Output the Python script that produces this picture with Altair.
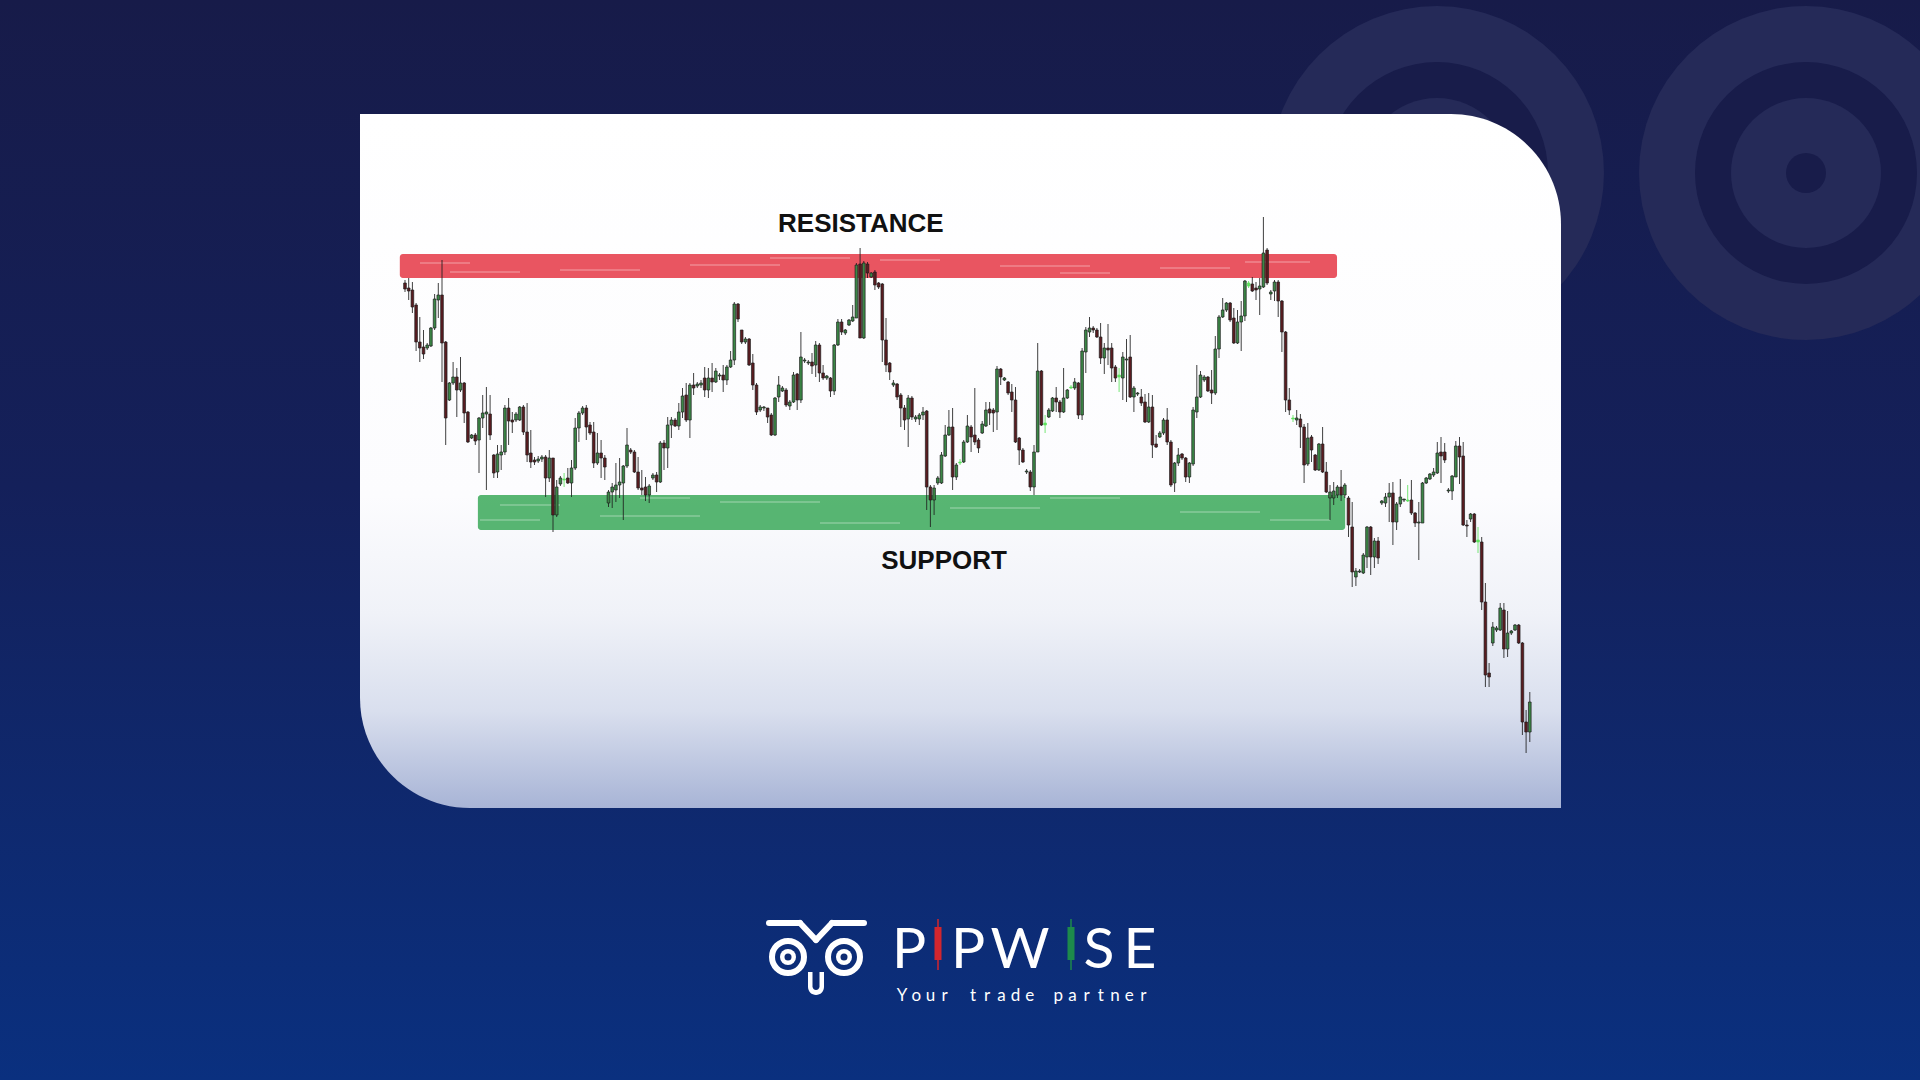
import altair as alt
import pandas as pd

# ---------------- candle data (price units) ----------------
opens = [717,712,710,695,658,653,652,654,672,700,
         705,658,600,617,623,610,617,588,562,565,
         560,582,586,586,545,528,545,548,592,580,
         580,580,593,568,547,540,539,541,543,522,
         542,485,516,520,522,517,532,572,587,592,
         575,568,537,547,542,497,508,510,515,517,
         534,550,548,528,512,513,505,522,525,518,
         557,552,575,580,574,588,605,580,615,614,
         615,622,610,622,618,624,625,620,633,640,
         696,670,658,661,637,615,590,592,592,585,
         565,603,609,610,594,598,626,600,639,637,
         638,635,655,627,622,622,609,655,678,667,
         675,679,682,736,662,736,723,728,717,716,
         660,637,615,616,605,592,581,602,581,581,
         585,589,513,500,517,517,544,565,573,523,
         537,538,558,573,565,560,567,574,591,590,
         588,631,620,618,608,600,562,550,528,528,
         513,548,629,575,583,589,602,598,588,602,
         612,612,617,585,648,668,672,670,663,642,
         652,652,633,623,622,640,643,603,606,603,
         598,578,593,556,563,567,580,558,517,537,
         546,542,523,536,588,603,620,623,610,607,
         651,683,690,697,682,657,678,684,714,716,
         712,711,713,750,706,709,718,699,668,600,
         581,580,581,573,536,563,545,530,556,528,
         502,502,505,513,505,502,473,423,428,427,
         443,473,443,459,497,497,503,507,478,496,
         500,499,500,487,477,477,517,521,525,527,
         548,548,509,509,523,554,544,475,481,486,
         458,458,398,327,357,370,370,390,351,367,
         370,375,357,278,268]
closes = [711,709,693,658,652,646,655,672,701,705,
          657,582,617,623,610,617,587,558,565,559,
          582,587,588,565,527,546,548,592,579,578,
          586,593,568,545,538,538,541,543,522,542,
          485,513,522,521,517,532,572,587,592,573,
          567,537,547,542,533,508,513,515,518,534,
          555,548,528,512,510,505,514,525,518,557,
          552,575,580,574,588,604,580,615,612,616,
          617,610,622,618,629,625,620,633,640,696,
          681,658,661,635,615,588,593,593,583,565,
          602,615,612,595,598,625,600,643,640,638,
          634,655,627,622,624,609,655,678,668,670,
          680,683,735,662,737,727,727,715,713,660,
          635,628,617,603,592,580,602,583,583,585,
          588,513,500,512,522,545,565,573,523,535,
          538,558,574,563,558,552,576,590,587,587,
          631,623,622,607,600,558,550,538,529,513,
          548,629,575,577,590,602,598,588,602,610,
          613,618,585,649,670,672,670,663,642,652,
          650,632,622,625,643,641,603,612,607,597,
          578,593,555,553,567,580,558,515,537,545,
          542,523,537,590,603,625,623,609,607,651,
          683,690,697,680,657,678,684,719,717,709,
          710,714,747,717,708,718,699,668,600,590,
          582,582,573,535,562,550,530,556,528,508,
          508,509,513,505,515,475,428,429,429,445,
          473,443,459,442,499,503,507,478,496,503,
          501,500,487,477,478,517,522,526,528,547,
          544,540,510,524,554,543,475,474,486,458,
          460,398,325,323,373,372,392,351,367,369,
          375,357,278,268,298]
highs = [720,722,718,697,683,670,657,673,706,717,
         740,659,618,638,632,643,618,589,566,567,
         583,605,613,605,546,555,555,595,602,588,
         588,594,595,597,570,543,544,545,545,550,
         542,520,524,527,532,540,582,589,594,595,
         578,578,567,560,545,510,517,537,542,535,
         572,552,550,543,530,523,516,527,528,559,
         560,583,583,582,597,612,617,617,627,618,
         620,633,632,637,632,627,635,635,649,698,
         697,670,663,662,646,617,595,594,592,587,
         603,624,614,612,600,628,627,668,642,640,
         647,659,657,635,625,623,656,681,681,671,
         681,695,737,752,739,738,728,730,718,717,
         682,638,620,617,607,595,605,604,585,587,
         593,590,515,515,524,548,575,590,592,537,
         541,560,585,575,612,562,579,598,598,592,
         634,632,623,619,616,613,563,552,531,530,
         555,657,630,585,592,603,613,600,632,611,
         615,622,618,652,673,683,674,672,677,657,
         676,657,635,632,648,661,665,614,608,611,
         606,607,605,565,569,582,592,560,538,552,
         547,543,538,593,635,629,625,624,630,664,
         685,702,698,698,692,690,699,720,719,723,
         718,722,783,752,710,720,720,700,669,612,
         585,590,586,576,577,565,546,557,573,538,
         515,518,515,530,517,504,498,432,431,447,
         474,474,462,463,500,507,517,518,498,521,
         501,515,520,488,498,518,523,527,532,558,
         563,557,512,525,559,563,558,480,487,487,
         473,463,417,337,378,374,397,397,389,370,
         376,376,358,290,308]
lows = [708,700,687,649,638,641,650,653,670,682,
        618,555,599,615,583,608,577,557,561,555,
        527,572,510,560,522,522,530,545,555,567,
        578,579,565,538,532,535,537,538,503,518,
        468,483,514,513,516,503,530,558,585,560,
        565,532,535,522,520,493,492,498,502,480,
        532,546,527,510,505,499,497,520,508,517,
        530,532,562,573,570,582,578,562,605,612,
        612,603,602,608,617,620,608,615,632,635,
        678,656,656,634,610,585,588,589,577,564,
        564,598,608,593,590,597,590,597,637,635,
        626,623,618,620,620,603,605,654,665,665,
        674,678,682,662,661,722,722,710,711,638,
        628,620,613,600,573,570,553,580,578,575,
        580,490,473,485,515,516,543,564,510,520,
        535,537,557,548,555,547,566,573,575,568,
        570,615,619,605,588,557,535,537,526,509,
        505,548,574,567,582,588,588,582,587,601,
        611,610,581,580,627,663,667,662,636,626,
        635,618,618,608,600,598,602,588,604,594,
        577,577,542,552,562,565,555,513,508,534,
        540,518,517,534,582,602,618,608,596,605,
        642,682,688,678,656,656,649,679,712,708,
        700,685,712,715,700,699,683,648,588,585,
        578,575,552,517,534,538,529,529,527,507,
        480,495,502,499,502,463,413,414,427,426,
        432,425,432,436,495,493,478,455,470,493,
        498,498,485,473,440,477,516,520,523,526,
        517,537,507,500,523,516,474,463,478,457,
        447,390,313,313,354,368,369,342,343,365,
        369,356,265,247,258]
light_idx = [43, 150, 173, 180, 193, 228, 240, 271, 290]

# zones and their labels
zone_names = ["RESISTANCE", "SUPPORT"]
zone_start = [-1.4, 19.7]
zone_end = [251.9, 254.1]
zone_top = [746, 505]
zone_bottom = [722, 470]
zone_colors = ["#e42b3a", "#2ea44f"]
label_idx = [123.2, 145.7]
label_price = [768, 431]

brand_letters = ["P", "P", "W", "S", "E"]
tagline = "Your trade partner"

# ---------------- layout constants ----------------
W, H = 1920, 1080
X0, DX = 405, 3.7
x_scale = alt.Scale(domain=[-X0 / DX, (W - X0) / DX], nice=False, zero=False)
y_scale = alt.Scale(domain=[1000 - H, 1000], nice=False, zero=False)

n = len(opens)
kinds = []
for k in range(n):
    if k in light_idx:
        kinds.append("light")
    elif closes[k] >= opens[k]:
        kinds.append("up")
    else:
        kinds.append("down")
candles = pd.DataFrame({"i": list(range(n)), "open": opens, "close": closes,
                        "high": highs, "low": lows, "kind": kinds})
zones = pd.DataFrame({"name": zone_names, "start": zone_start, "end": zone_end,
                      "top": zone_top, "bottom": zone_bottom})
labels = pd.DataFrame({"name": zone_names, "idx": label_idx, "price": label_price})

one = alt.Data(values=[{"a": 1}])
layers = []


def rect(x, x2, y, y2, **kw):
    return alt.Chart(one).mark_rect(**kw).encode(
        x=alt.value(x), x2=alt.value(x2), y=alt.value(y), y2=alt.value(y2))


def seg(x, x2, y, y2, **kw):
    return alt.Chart(one).mark_rule(**kw).encode(
        x=alt.value(x), x2=alt.value(x2), y=alt.value(y), y2=alt.value(y2))


def dot(cx, cy, r, color):
    return alt.Chart(one).mark_point(filled=True, shape="circle", size=(2 * r) ** 2,
                                     color=color, opacity=1, strokeWidth=0).encode(
        x=alt.value(cx), y=alt.value(cy))


def grad(stops):
    return alt.LinearGradient(gradient="linear", x1=0, x2=0, y1=0, y2=1,
                              stops=[alt.GradientStop(offset=o, color=c) for o, c in stops])


# background
layers.append(rect(0, W, 0, H, color=grad([(0, "#171b49"), (0.45, "#14205a"), (1, "#0a307f")])))

# decorative owl-eye rings (top right)
LIGHT, DARK = "#252a58", "#181c4a"
for cx in (1437, 1806):
    layers.append(dot(cx, 173, 167, LIGHT))
for cx in (1437, 1806):
    layers.append(dot(cx, 173, 111, DARK))
    layers.append(dot(cx, 173, 75, LIGHT))
    layers.append(dot(cx, 173, 20, DARK))

# white card
layers.append(rect(360, 1561, 114, 808,
                   color=grad([(0, "#ffffff"), (0.55, "#fcfcfe"), (0.72, "#f0f2f8"),
                               (0.86, "#d9dfee"), (1, "#a8b4d6")]),
                   cornerRadiusTopRight=110, cornerRadiusBottomLeft=110))

# zones
layers.append(alt.Chart(zones).mark_rect(opacity=0.8, cornerRadius=3, strokeWidth=1.5,
                                         strokeOpacity=0.5).encode(
    x=alt.X("start:Q", scale=x_scale, axis=None), x2="end:Q",
    y=alt.Y("top:Q", scale=y_scale, axis=None), y2="bottom:Q",
    color=alt.Color("name:N", scale=alt.Scale(domain=zone_names, range=zone_colors), legend=None)))
# light streak texture in the zones
for (x1, x2, yy) in [(420, 470, 263), (690, 780, 265), (1000, 1090, 266), (560, 640, 270),
                     (880, 940, 260), (1160, 1230, 268), (1245, 1310, 262), (450, 520, 272),
                     (1060, 1110, 273), (770, 850, 258)]:
    layers.append(seg(x1, x2, yy, yy, color="#ffffff", strokeWidth=1.2, opacity=0.45))
for (x1, x2, yy) in [(500, 560, 505), (720, 820, 502), (950, 1040, 508), (600, 700, 516),
                     (1180, 1260, 512), (1270, 1330, 520), (820, 900, 523), (480, 540, 520),
                     (1050, 1120, 498), (640, 690, 498)]:
    layers.append(seg(x1, x2, yy, yy, color="#ffffff", strokeWidth=1.2, opacity=0.45))

stroke_scale = alt.Scale(domain=["up", "down", "light"], range=["#1e1e1e", "#1e1e1e", "#5fe35f"])
fill_scale = alt.Scale(domain=["up", "down", "light"], range=["#3b8746", "#5a1c20", "#5fe35f"])

# wicks
layers.append(alt.Chart(candles).mark_rule(strokeWidth=1, opacity=0.85).encode(
    x=alt.X("i:Q", scale=x_scale, axis=None),
    y=alt.Y("low:Q", scale=y_scale, axis=None), y2="high:Q",
    stroke=alt.Stroke("kind:N", scale=stroke_scale, legend=None)))

# bodies
layers.append(alt.Chart(candles).transform_calculate(
    xa="datum.i - 0.36", xb="datum.i + 0.36").mark_rect(strokeWidth=0.7).encode(
    x=alt.X("xa:Q", scale=x_scale, axis=None), x2="xb:Q",
    y=alt.Y("open:Q", scale=y_scale, axis=None), y2="close:Q",
    fill=alt.Fill("kind:N", scale=fill_scale, legend=None),
    stroke=alt.Stroke("kind:N", scale=stroke_scale, legend=None)))

# zone labels
layers.append(alt.Chart(labels).mark_text(font="Liberation Sans", fontWeight="bold", fontSize=26,
                                          color="#111111", align="center",
                                          baseline="alphabetic").encode(
    x=alt.X("idx:Q", scale=x_scale, axis=None),
    y=alt.Y("price:Q", scale=y_scale, axis=None), text="name:N"))

# ---------------- logo ----------------
WHITE = "#ffffff"
PUPIL = "#0d2b72"
for (x1, y1, x2, y2) in [(769, 923, 800, 923), (800, 923, 816, 940), (816, 940, 832, 923),
                         (832, 923, 864, 923)]:
    layers.append(seg(x1, x2, y1, y2, color=WHITE, strokeWidth=6, strokeCap="round"))
for cx in (788, 844):
    layers.append(alt.Chart(one).mark_point(filled=False, shape="circle", size=32 ** 2,
                                            color=WHITE, opacity=1, strokeWidth=6).encode(
        x=alt.value(cx), y=alt.value(957)))
    layers.append(dot(cx, 957, 8, WHITE))
    layers.append(dot(cx, 957, 3.5, PUPIL))
layers.append(rect(808, 824, 972, 995, color=WHITE, cornerRadiusBottomLeft=8, cornerRadiusBottomRight=8))
layers.append(rect(812.5, 819.5, 972, 990, color=PUPIL, cornerRadiusBottomLeft=3.5, cornerRadiusBottomRight=3.5))

for ch, cx in zip(brand_letters, [909, 968, 1020, 1099, 1140]):
    layers.append(alt.Chart(one).mark_text(text=ch, font="Lato", fontSize=57, fontWeight=400,
                                           color=WHITE, align="center",
                                           baseline="alphabetic").encode(
        x=alt.value(cx), y=alt.value(968)))
for cx, col in ((938, "#d2262e"), (1071, "#1d8a4b")):
    layers.append(seg(cx, cx, 919, 970, color=col, strokeWidth=1.5))
    layers.append(rect(cx - 3.5, cx + 3.5, 927, 960, color=col))

for k, ch in enumerate(tagline):
    if ch == " ":
        continue
    layers.append(alt.Chart(one).mark_text(text=ch, font="Lato", fontSize=17, color=WHITE,
                                           align="center", baseline="alphabetic").encode(
        x=alt.value(902 + k * 14.2), y=alt.value(1001)))

chart = alt.layer(*layers).properties(
    width=W, height=H, padding=0,
    autosize=alt.AutoSizeParams(type="none"),
    background="#161b48",
).configure_view(stroke=None)

chart.save("out.html", embed_options={"renderer": "svg", "actions": False})
